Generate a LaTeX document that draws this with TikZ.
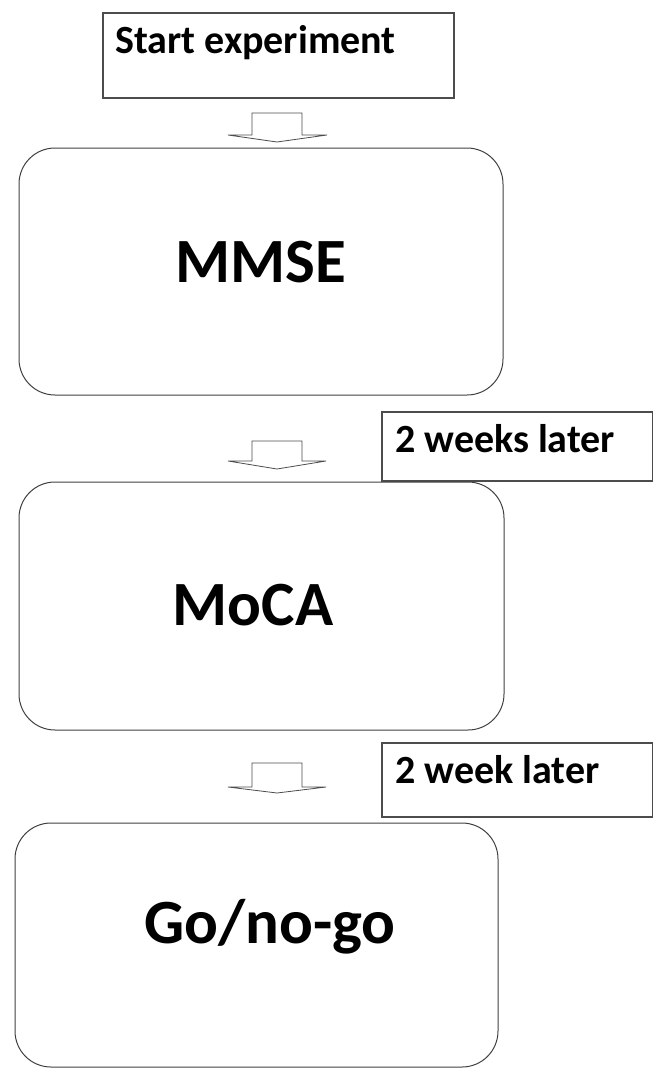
\documentclass[tikz,border=0pt]{standalone}
\usepackage{fontspec}
\setmainfont{Carlito}
\usepackage{tikz}

\begin{document}
\begin{tikzpicture}
	[x=1pt,y=-1pt,
	 stage/.style={draw=black!75,line width=1pt,rounded corners=36pt,inner sep=0pt},
	 tag/.style={draw=black!70,line width=1.1pt,inner sep=0pt},
	 bigtext/.style={font=\fontsize{63}{70}\selectfont\bfseries,inner sep=0pt},
	 smalltext/.style={font=\fontsize{40}{44}\selectfont\bfseries,inner sep=0pt},
	 blockarrow/.style={draw=black!70,line width=0.8pt,fill=white,line join=miter}]

	\path [use as bounding box] (0,0) rectangle (653,1068);

	\node[tag,minimum width=351pt,minimum height=85pt] (startbox) at (278.5,55.5) {};
	\node[smalltext,anchor=base west] (starttext) at (115,53) {Start experiment};

	\node[stage,minimum width=484pt,minimum height=247pt] (mmse) at (261,271.5) {};
	\node[bigtext,anchor=base] (mmsetext) at (261,282) {MMSE};

	\node[tag,minimum width=271pt,minimum height=69pt] (weeksbox) at (517.5,446.5) {};
	\node[smalltext,anchor=base west] (weekstext) at (395,452) {2 weeks later};

	\node[stage,minimum width=485pt,minimum height=248pt] (moca) at (261.5,606) {};
	\node[bigtext,anchor=base] (mocatext) at (253,625) {MoCA};

	\node[tag,minimum width=271pt,minimum height=74pt] (weekbox) at (517.5,780) {};
	\node[smalltext,anchor=base west] (weektext) at (395,783) {2 week later};

	\node[stage,minimum width=483pt,minimum height=244pt] (gonogo) at (256.5,945) {};
	\node[bigtext,anchor=base] (gonogotext) at (270,943) {Go/no-go};

	\draw[blockarrow] (252,113) -- (302,113) -- (302,135) -- (327,135) -- (277,142) -- (228,135) -- (252,135) -- cycle;
	\draw[blockarrow] (252,441) -- (302,441) -- (302,461) -- (326,461) -- (277,469) -- (228,461) -- (252,461) -- cycle;
	\draw[blockarrow] (252,763) -- (302,763) -- (302,787) -- (326,787) -- (277,793) -- (228,787) -- (252,787) -- cycle;
\end{tikzpicture}
\end{document}
